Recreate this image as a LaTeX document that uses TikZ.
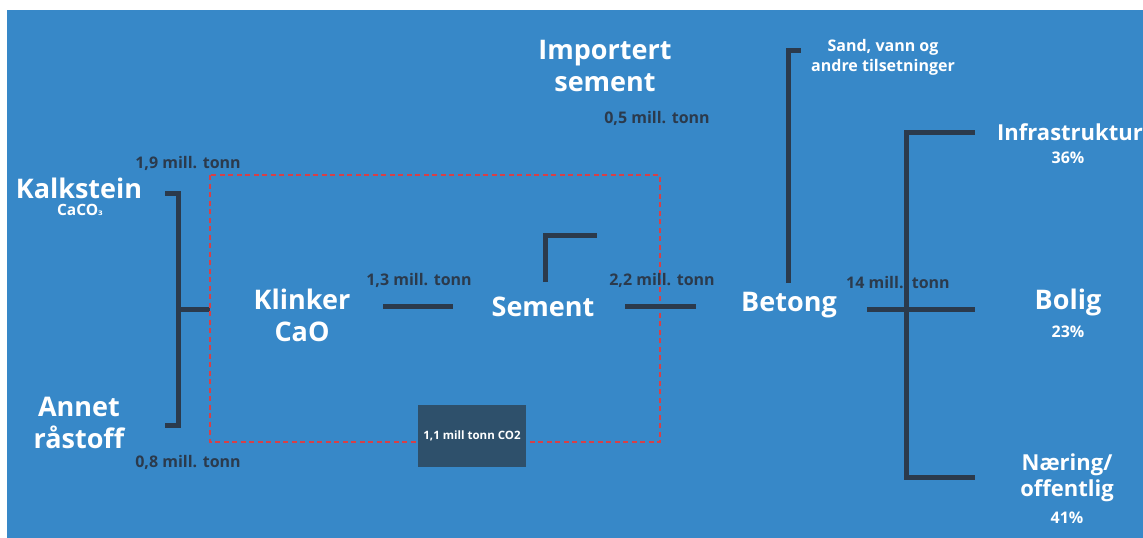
\documentclass[tikz,border=0pt]{standalone}
\usepackage{fontspec}
\setmainfont{Open Sans}
\newfontfamily\subfont{DejaVu Sans}
\usepackage{tikz}
\definecolor{bgblue}{RGB}{55,136,200}
\definecolor{darkline}{RGB}{43,58,76}
\definecolor{boxblue}{RGB}{46,80,107}
\definecolor{dashred}{RGB}{214,64,72}
\tikzset{
    big/.style={text=white, font=\bfseries\fontsize{27}{32}\selectfont, align=center, inner sep=0pt},
    mid/.style={text=white, font=\bfseries\fontsize{16}{20}\selectfont, align=center, inner sep=0pt},
    side/.style={text=white, font=\bfseries\fontsize{22}{26}\selectfont, align=center, inner sep=0pt},
    small/.style={text=white, font=\bfseries\fontsize{16}{18}\selectfont, inner sep=0pt},
    amount/.style={text=darkline, font=\bfseries\fontsize{16}{18}\selectfont, inner sep=0pt},
    flow/.style={draw=darkline, line width=5pt},
    boundary/.style={draw=dashred, line width=1.1pt, dash pattern=on 5pt off 3.5pt}
}

\begin{document}
\begin{tikzpicture}[x=1pt, y=-1pt]
          \useasboundingbox (0,0) rectangle (1143,538);
          \fill[white] (0,0) rectangle (1143,538);
          \fill[bgblue] (7,10) rectangle (1143,538);
          % raw materials
          \node [big] (kalk) at (79,188) {Kalkstein};
          \node [small, font=\bfseries\fontsize{15.5}{16}\selectfont] (caco) at (80,210) {CaCO{\subfont\fontsize{11}{12}\selectfont ₃}};
          \node [big] (annet) at (79,423) {Annet\\råstoff};
          \node [amount] (kalkamt) at (188,163) {1,9 mill. tonn};
          \node [amount] (annetamt) at (188,462) {0,8 mill. tonn};
          \draw [flow] (165,193) -- (178,193) -- (178,425) -- (165,425);
          \draw [flow] (178,309) -- (210,309);
          % factory
          \draw [boundary] (210,175) rectangle (660,442);
          \node [big] (klinker) at (302,315) {Klinker\\CaO};
          \node [amount] (klinkamt) at (419,280) {1,3 mill. tonn};
          \draw [flow] (383,306) -- (453,306);
          \node [big] (sement) at (543,307) {Sement};
          \draw [flow] (545,282) -- (545,235) -- (597,235);
          \node [amount] (sementamt) at (662,280) {2,2 mill. tonn};
          \draw [flow] (625,306) -- (696,306);
          \node [mid, minimum width=108pt, minimum height=62pt, fill=boxblue,
                 font=\bfseries\fontsize{11.5}{13}\selectfont] (co2) at (472,436) {1,1 mill tonn CO2};
          % import
          \node [big] (import) at (605,66) {Importert\\sement};
          \node [amount] (importamt) at (657,118) {0,5 mill. tonn};
          % concrete
          \node [big] (betong) at (789,305) {Betong};
          \draw [flow] (788,283) -- (788,50) -- (801,50);
          \node [mid] (sand) at (883,57) {Sand, vann og\\andre tilsetninger};
          \node [amount] (betongamt) at (898,283) {14 mill.\ \ tonn};
          \draw [flow] (975,132) -- (906,132) -- (906,477) -- (975,477);
          \draw [flow] (867,309) -- (975,309);
          % use
          \node [side] (infra) at (1070,132) {Infrastruktur};
          \node [small] (infrapct) at (1068,158) {36\%};
          \node [big] (bolig) at (1068,302) {Bolig};
          \node [small] (boligpct) at (1068,332) {23\%};
          \node [side] (naering) at (1067,478) {Næring/\\offentlig};
          \node [small] (naeringpct) at (1067,518) {41\%};
        \end{tikzpicture}
\end{document}
